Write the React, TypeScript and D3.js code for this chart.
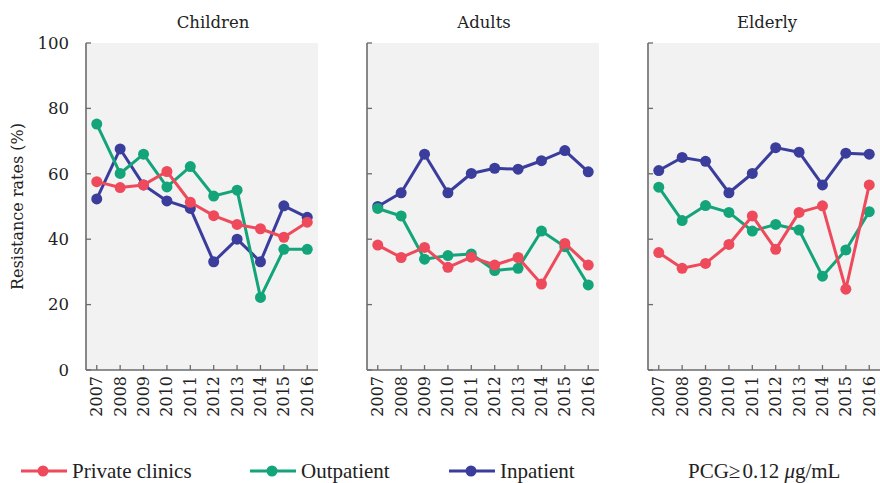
import React, { useEffect, useRef } from 'react'
import * as d3 from 'd3'

const years = ['2007', '2008', '2009', '2010', '2011', '2012', '2013', '2014', '2015', '2016']
const panels = ['Children', 'Adults', 'Elderly']
const seriesNames = ['Private clinics', 'Outpatient', 'Inpatient']
const yTicks = [0, 20, 40, 60, 80, 100]

// Children
const childPrivate = [57.6, 55.8, 56.6, 60.7, 51.3, 47.2, 44.5, 43.2, 40.6, 45.2]
const childOutpatient = [75.2, 60.1, 66.0, 56.0, 62.2, 53.2, 55.0, 22.2, 36.9, 36.9]
const childInpatient = [52.3, 67.6, 56.6, 51.7, 49.4, 33.1, 40.0, 33.1, 50.2, 46.7]

// Adults
const adultPrivate = [38.2, 34.4, 37.5, 31.4, 34.5, 32.1, 34.4, 26.3, 38.7, 32.1]
const adultOutpatient = [49.4, 47.1, 33.9, 35.0, 35.5, 30.4, 31.1, 42.5, 37.7, 26.0]
const adultInpatient = [50.0, 54.2, 66.0, 54.2, 60.1, 61.7, 61.4, 64.0, 67.1, 60.6]

// Elderly
const elderPrivate = [35.9, 31.1, 32.6, 38.4, 47.1, 36.9, 48.2, 50.2, 24.7, 56.6]
const elderOutpatient = [55.9, 45.7, 50.3, 48.2, 42.5, 44.5, 42.8, 28.7, 36.7, 48.4]
const elderInpatient = [61.0, 65.0, 63.8, 54.2, 60.1, 68.0, 66.6, 56.6, 66.3, 66.0]

const colors = ['#ee4a5b', '#14a47a', '#3a3d9b']

const W = 880
const H = 483

export default function App() {
  const svgRef = useRef<SVGSVGElement | null>(null)

  useEffect(() => {
    if (!svgRef.current) return
    const svg = d3.select(svgRef.current)
    svg.selectAll('*').remove()

    const panelData = [
      [childPrivate, childOutpatient, childInpatient],
      [adultPrivate, adultOutpatient, adultInpatient],
      [elderPrivate, elderOutpatient, elderInpatient],
    ]

    const top = 43
    const bottom = 370
    const panelW = 232
    const panelX = d3.scaleOrdinal<string, number>().domain(panels).range([86, 367, 648])
    const titleDx = [11, 1, 3]
    const y = d3.scaleLinear().domain([0, 100]).range([bottom, top])
    const serif = 'DejaVu Serif'

    panels.forEach((name, pi) => {
      const x0 = panelX(name)
      const g = svg.append('g')
      const x = d3.scalePoint<string>().domain(years).range([x0, x0 + panelW]).padding(0.46)

      g.append('rect')
        .attr('x', x0)
        .attr('y', top)
        .attr('width', panelW)
        .attr('height', bottom - top)
        .attr('fill', '#f2f2f2')

      // axes
      g.append('line')
        .attr('x1', x0).attr('x2', x0)
        .attr('y1', top).attr('y2', bottom)
        .attr('stroke', '#6b6b6b').attr('stroke-width', 1.6)
      g.append('line')
        .attr('x1', x0).attr('x2', x0 + panelW)
        .attr('y1', bottom).attr('y2', bottom)
        .attr('stroke', '#6b6b6b').attr('stroke-width', 1.6)

      g.selectAll('.yt')
        .data(yTicks)
        .join('line')
        .attr('x1', x0).attr('x2', x0 + 5)
        .attr('y1', (d) => y(d)).attr('y2', (d) => y(d))
        .attr('stroke', '#6b6b6b').attr('stroke-width', 1.3)

      g.selectAll('.xt')
        .data(years)
        .join('line')
        .attr('x1', (d) => x(d)!).attr('x2', (d) => x(d)!)
        .attr('y1', bottom).attr('y2', bottom - 5)
        .attr('stroke', '#6b6b6b').attr('stroke-width', 1.3)

      g.selectAll('.xl')
        .data(years)
        .join('text')
        .attr('transform', (d) => `translate(${x(d)! + 5.5},${bottom + 6}) rotate(-90)`)
        .attr('text-anchor', 'end')
        .attr('font-family', serif)
        .attr('font-size', 16)
        .attr('fill', '#222')
        .text((d) => d)

      if (pi === 0) {
        g.selectAll('.yl')
          .data(yTicks)
          .join('text')
          .attr('x', 69)
          .attr('y', (d) => y(d))
          .attr('dy', '0.35em')
          .attr('text-anchor', 'end')
          .attr('font-family', serif)
          .attr('font-size', 16.5)
          .attr('fill', '#222')
          .text((d) => d)
      }

      g.append('text')
        .attr('x', x0 + panelW / 2 + titleDx[pi])
        .attr('y', 28)
        .attr('text-anchor', 'middle')
        .attr('font-family', serif)
        .attr('font-size', 16.5)
        .attr('fill', '#222')
        .text(name)

      const line = d3
        .line<number>()
        .x((_, i) => x(years[i])!)
        .y((d) => y(d))

      // draw inpatient first, private clinics on top
      ;[2, 1, 0].forEach((si) => {
        const vals = panelData[pi][si]
        g.append('path')
          .datum(vals)
          .attr('d', line)
          .attr('fill', 'none')
          .attr('stroke', colors[si])
          .attr('stroke-width', 3)
          .attr('stroke-linejoin', 'round')
        g.append('g')
          .selectAll('circle')
          .data(vals)
          .join('circle')
          .attr('cx', (_, i) => x(years[i])!)
          .attr('cy', (d) => y(d))
          .attr('r', 5.5)
          .attr('fill', colors[si])
      })
    })

    // y title
    svg.append('text')
      .attr('transform', `translate(23,${(top + bottom) / 2}) rotate(-90)`)
      .attr('text-anchor', 'middle')
      .attr('font-family', serif)
      .attr('font-size', 16)
      .attr('fill', '#222')
      .text('Resistance rates (%)')

    // legend
    const legendX = [21, 250, 449]
    const ly = 471
    const lg = svg.append('g')
    seriesNames.forEach((n, i) => {
      const lx = legendX[i]
      lg.append('line')
        .attr('x1', lx).attr('x2', lx + 46)
        .attr('y1', ly).attr('y2', ly)
        .attr('stroke', colors[i]).attr('stroke-width', 3)
      lg.append('circle')
        .attr('cx', lx + 22).attr('cy', ly).attr('r', 5.5)
        .attr('fill', colors[i])
      lg.append('text')
        .attr('x', lx + 51).attr('y', ly)
        .attr('dy', '0.33em')
        .attr('font-family', 'Liberation Serif')
        .attr('font-size', 21)
        .attr('fill', '#222')
        .text(n)
    })
    const pcg = lg.append('text')
      .attr('x', 688).attr('y', ly)
      .attr('dy', '0.33em')
      .attr('font-family', 'Liberation Serif')
      .attr('font-size', 21)
      .attr('fill', '#222')
    pcg.append('tspan').text('PCG\u2265')
    pcg.append('tspan').attr('dx', 2).text('0.12 ')
    pcg.append('tspan').attr('font-style', 'italic').text('\u03bc')
    pcg.append('tspan').text('g/mL')
  }, [])

  return (
    <svg
      ref={svgRef}
      width={W}
      height={H}
      style={{ position: 'absolute', left: 0, top: 0, background: '#fff' }}
    />
  )
}
